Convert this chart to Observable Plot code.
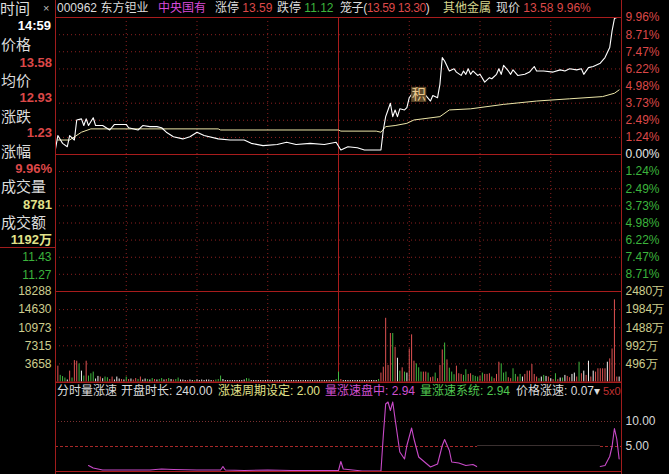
<!DOCTYPE html>
<html><head><meta charset="utf-8">
<script src="https://cdn.jsdelivr.net/npm/d3@7"></script>
<script src="https://cdn.jsdelivr.net/npm/@observablehq/plot@0.6"></script>
<style>
body{margin:0;background:#000;}
#wrap{position:relative;width:669px;height:474px;background:#000;overflow:hidden;font-family:"Liberation Sans","Noto Sans CJK SC",sans-serif;}
#wrap svg{position:absolute;left:0;top:0;}
.t{position:absolute;white-space:nowrap;font-family:"Liberation Sans","Noto Sans CJK SC",sans-serif;}
.vline{position:absolute;top:0;width:1px;height:474px;background:#a01c1c;}
</style></head><body><div id="wrap"></div>
<script>
// ---------------- data ----------------
const prevClose = 12.35;
const stockCode = "000962", stockName = "东方钽业", stockTag = "中央国有", sector = "其他金属";
const limitUp = "13.59", limitDown = "11.12", cage = "13.59 13.30";
const lastPrice = "13.58", lastPct = "9.96%", avgNow = "12.93", change = "1.23", volNow = "8781", amtNow = "1192万", timeNow = "14:59";

// minute index (0 = 9:30, 120 = 11:30/13:00, 240 = 15:00) and price
const priceT = [0,1,3,5,6,8,9,11,12,13,14,16,17,18,20,23,25,30,31,35,37,40,43,45,47,50,54,57,60,63,69,74,80,83,88,94,98,102,108,114,119,121,124,128,131,136,138,139,140,141,142,143,144,145,146,148,149,150,152,155,157,159,160,162,163,164,165,167,169,170,172,173,174,175,176,177,179,180,182,184,185,187,188,189,190,192,193,194,196,199,201,203,204,207,211,214,216,218,221,223,224,226,228,231,233,235,236,237,238,239];
const price = [12.40,12.52,12.45,12.42,12.52,12.48,12.66,12.67,12.61,12.67,12.61,12.68,12.61,12.61,12.61,12.57,12.62,12.62,12.59,12.57,12.61,12.60,12.60,12.59,12.55,12.51,12.49,12.51,12.55,12.52,12.49,12.48,12.48,12.45,12.43,12.44,12.46,12.44,12.45,12.44,12.46,12.39,12.42,12.41,12.39,12.39,12.39,12.57,12.69,12.75,12.81,12.69,12.75,12.69,12.76,12.75,12.77,12.86,12.92,12.91,12.88,12.83,12.88,12.86,12.98,13.22,13.19,13.10,13.12,13.09,13.06,13.10,13.07,13.12,13.07,13.10,13.06,13.07,13.00,13.04,13.03,13.07,13.12,13.07,13.15,13.10,13.07,13.11,13.06,13.07,13.09,13.14,13.10,13.10,13.09,13.11,13.10,13.12,13.11,13.12,13.07,13.13,13.14,13.17,13.22,13.31,13.46,13.57,13.58,13.58];
const avgT = [1,6,11,15,69,70,120,121,136,138,140,144,149,152,163,167,176,190,204,218,232,237,239];
const avgP = [12.48,12.48,12.55,12.58,12.58,12.57,12.57,12.56,12.56,12.55,12.60,12.61,12.63,12.66,12.69,12.75,12.76,12.80,12.83,12.85,12.87,12.90,12.93];
const signalT = [154], signalP = [12.89], signalText = ["积"];

// volume (hands) per minute 0..240, direction r=up g=down w=flat
const vol = [
2860,3200,1340,1100,800,400,2200,800,4330,4200,
3660,2200,1200,4200,1200,1660,2000,600,1130,1000,
660,1000,860,500,1000,400,1000,600,500,400,
1000,500,600,400,700,500,1000,400,600,500,
400,700,500,400,500,700,400,500,700,500,
400,500,800,400,400,300,300,400,300,300,
400,300,400,300,400,400,300,300,400,500,
1200,500,300,300,300,300,300,300,300,300,
400,700,600,300,300,300,300,300,300,300,
300,300,300,300,300,300,300,300,300,300,
300,300,300,300,300,300,300,300,300,300,
300,300,300,300,300,300,300,300,300,500,
2000,500,300,300,300,300,300,300,300,300,
300,300,300,300,300,300,300,500,1800,3000,
12870,3330,9800,9800,7000,4800,2200,2870,2000,1800,
6670,9530,4200,3670,2870,2000,2000,2000,1800,870,
1000,1800,670,3330,6470,7870,4470,2800,2000,1470,
3200,1670,1530,1330,2470,1530,1670,1330,1130,1000,
1130,1800,1530,1530,1670,1000,670,1530,4000,3670,
1800,2000,870,670,2670,1530,1000,1530,1000,1530,
2200,2200,3530,1530,1000,670,1000,1330,1130,1000,
670,470,1670,470,800,800,1330,1130,870,1530,
1800,1000,4000,1670,2200,1330,4200,1000,2200,2000,
2670,2670,2670,2670,4000,4670,6670,16600,1000,1000,
9000];
const volDir = ("rrgggwrgrr"+"gwgrgggwwr"+"wggrrwwwrw"+"grwrrgrwwg"+"wgrwggwrgw"+"rggwwwrwwg"+"wwwwwwwrgg"+"gwwwwwwwww"+"wggwwwwwww"+"wwwwwwwwww"+"wwwwwwwwww"+"wwwwwwwwwg"+"grwwwwwwww"+"wwwwwwwgrr"+"rrrgrwgrgw"+"rrrgggrrgr"+"rgrrrgrggg"+"rrrggrrggg"+"rgrrrgrrrg"+"ggrrggrgwr"+"rrrrrgwgwr"+"wrgrwgwrrw"+"wrgrwrwrwr"+"rrrrwrrrrw"+"w").split("");

// volume speed indicator
const spT = [14,16,20,30,40,45,50,60,70,71,72,80,90,100,110,120,121,122,130,138,139,140,141,142,143,144,146,148,149,151,152,154,157,159,162,164,165,167,168,171,174,177,179,231,233,235,236,237,238,239];
const spV = [1.2,0.7,0.3,0.3,0.3,0.5,0.4,0.3,0.3,1.0,0.3,0.2,0.3,0.2,0.2,0.2,2.0,0.5,0.1,0.1,7.2,13.5,13.9,12.2,13.9,10.5,3.9,2.5,5.2,8.7,6.5,2.9,1.7,0.9,1.5,5.2,6.4,4.2,1.9,1.7,1.2,1.4,0.9,1.0,1.2,3.0,5.0,8.6,6.5,2.5];
const occludedFrom = [179], occludedTo = [231], occludedTop = [5.2];

// tick values / labels
const pctPos = [9.96,8.71,7.47,6.22,4.98,3.73,2.49,1.24];
const pctNeg = [-1.24,-2.49,-3.73,-4.98,-6.22,-7.47,-8.71];
const leftPriceTicks = [11.43, 11.27];
const volTicks = [3658,7315,10973,14630,18288];
const amtLabels = ["496万","992万","1488万","1984万","2480万"];
const spTicks = [5, 10];
const timeGrid = [30,60,90,150,180,210];

// ---------------- drawing ----------------
const W = 669, H = 474, X0 = 55, X1 = 621;
const RED = "#dc4848", GREEN = "#3cb43c", WHITE = "#e8e8e8", KHAKI = "#cdcd8e", MAG = "#c84ac8";
const BORDER = "#a81c1c", GRID = "#8c2020", AVG = "#ece6a8";
const wrap = document.getElementById("wrap");
const pct = p => (p / prevClose - 1) * 100;

const priceData = priceT.map((t, i) => ({t, v: pct(price[i])}));
const avgData = avgT.map((t, i) => ({t, v: pct(avgP[i])}));
const sigData = signalT.map((t, i) => ({t, v: pct(signalP[i]), s: signalText[i]}));
const volData = vol.map((v, i) => ({t: i, v, d: volDir[i]}));
const spData = spT.map((t, i) => ({t, v: spV[i]}));
const occData = occludedFrom.map((a, i) => ({a, b: occludedTo[i], top: occludedTop[i]}));
const amtMap = new Map(volTicks.map((v, i) => [v, amtLabels[i]]));

const base = {
  width: W, height: H, marginLeft: X0, marginRight: W - X1,
  style: {background: "transparent", color: WHITE, fontFamily: "Liberation Sans, sans-serif", fontSize: "12px"},
  x: {domain: [0, 240], axis: null}
};
const dotted = {stroke: GRID, strokeOpacity: 1, strokeDasharray: "1,3"};

// price panel
const pricePlot = Plot.plot({
  ...base, marginTop: 17, marginBottom: H - 291,
  y: {domain: [-9.96, 9.96], axis: null},
  marks: [
    Plot.gridX(timeGrid, dotted),
    Plot.gridY([...pctPos.slice(1), ...pctNeg], dotted),
    Plot.ruleY([0], {stroke: BORDER}),
    Plot.ruleX([120], {stroke: BORDER}),
    Plot.axisY({anchor: "right", ticks: pctPos, tickSize: 0, tickPadding: 4, tickFormat: d => d.toFixed(2) + "%", color: RED, label: null}),
    Plot.axisY({anchor: "right", ticks: [0], tickSize: 0, tickPadding: 4, tickFormat: d => "0.00%", color: WHITE, label: null}),
    Plot.axisY({anchor: "right", ticks: pctNeg, tickSize: 0, tickPadding: 4, tickFormat: d => Math.abs(d).toFixed(2) + "%", color: GREEN, label: null}),
    Plot.axisY({anchor: "left", ticks: leftPriceTicks.map(pct), tickSize: 0, tickPadding: 4, tickFormat: d => (prevClose * (1 + d / 100)).toFixed(2), color: GREEN, label: null}),
    Plot.line(avgData, {x: "t", y: "v", stroke: AVG, strokeWidth: 1}),
    Plot.line(priceData, {x: "t", y: "v", stroke: "#ffffff", strokeWidth: 1.1}),
    Plot.dot(sigData, {x: "t", y: "v", symbol: "square", r: 8.5, fill: "#5e4a2a", stroke: "none"}),
    Plot.text(sigData, {x: "t", y: "v", text: "s", fill: "#e9c98e", fontSize: 14, fontFamily: "Noto Sans CJK SC"}),
    Plot.frame({stroke: BORDER})
  ]
});

// volume panel
const volPlot = Plot.plot({
  ...base, marginTop: 291, marginBottom: H - 381.5,
  y: {domain: [0, 18288], axis: null},
  color: {domain: ["r", "g", "w"], range: ["#e05252", "#3fb83f", "#f2f2f2"]},
  marks: [
    Plot.gridX(timeGrid, dotted),
    Plot.gridY(volTicks.slice(0, 4), dotted),
    Plot.ruleX([120], {stroke: BORDER}),
    Plot.ruleX(volData, {x: "t", y1: 0, y2: "v", stroke: "d", strokeWidth: 1}),
    Plot.axisY({anchor: "left", ticks: volTicks, tickSize: 0, tickPadding: 4, tickFormat: d => String(d), color: KHAKI, label: null}),
    Plot.axisY({anchor: "right", ticks: volTicks, tickSize: 0, tickPadding: 4, tickFormat: d => amtMap.get(d), color: KHAKI, label: null}),
    Plot.frame({stroke: BORDER})
  ]
});

// volume-speed panel
const spPlot = Plot.plot({
  ...base, marginTop: 382, marginBottom: H - 471,
  y: {domain: [0, 17.8], axis: null},
  marks: [
    Plot.gridY([10], {stroke: "#7a3030", strokeOpacity: 1, strokeDasharray: "1,2"}),
    Plot.gridY([5], {stroke: "#a82828", strokeOpacity: 1, strokeDasharray: "3,2"}),
    Plot.line(spData, {x: "t", y: "v", stroke: MAG, strokeWidth: 1.1}),
    Plot.rect(occData, {x1: "a", x2: "b", y1: -1, y2: "top", fill: "#000"}),
    Plot.ruleY(occData, {x1: "a", x2: "b", y: "top", stroke: "#3a3030"}),
    Plot.axisY({anchor: "right", ticks: spTicks, tickSize: 0, tickPadding: 4, tickFormat: d => d.toFixed(2), color: "#d8d8d8", label: null}),
    Plot.frame({stroke: BORDER})
  ]
});

wrap.appendChild(pricePlot);
wrap.appendChild(volPlot);
wrap.appendChild(spPlot);

// full-height borders
for (const x of [X0 - 0.5, X1 - 0.5]) {
  const d = document.createElement("div"); d.className = "vline"; d.style.left = Math.round(x) + "px"; wrap.appendChild(d);
}
const hl = document.createElement("div");
hl.style.cssText = "position:absolute;left:0;top:247px;width:55px;height:1px;background:#a01c1c";
wrap.appendChild(hl);

// text helper: segments = [[text, color], ...]
function label(x, y, segs, size = 12, opt = {}) {
  const d = document.createElement("div");
  d.className = "t";
  if (typeof segs === "string") segs = [[segs, opt.color]];
  for (const [s, c] of segs) {
    const sp = document.createElement("span");
    sp.textContent = s; sp.style.color = c;
    d.appendChild(sp);
  }
  d.style.fontSize = size + "px";
  d.style.lineHeight = size + "px";
  d.style.top = (y - size / 2) + "px";
  if (opt.right != null) d.style.right = (W - opt.right) + "px"; else d.style.left = x + "px";
  if (opt.bold) d.style.fontWeight = "bold";
  if (opt.spacing != null) d.style.letterSpacing = opt.spacing + "px";
  wrap.appendChild(d);
  return d;
}
const LG = "#dcdcdc";
// header
label(0, 8, "时间", 15, {color: LG});
label(43, 8, "×", 11, {color: "#bbbbbb"});
label(57, 8, stockCode + " " + stockName, 12, {color: LG});
label(158, 8, stockTag, 12, {color: "#d84ad8"});
label(215, 8, [["涨停 ", LG], [limitUp, RED]], 12);
label(277, 8, [["跌停 ", LG], [limitDown, GREEN]], 12);
label(340, 8, [["笼子(", LG], [cage, RED], [")", LG]], 12, {spacing: -0.4});
label(443, 8, sector, 12, {color: "#d6d68e"});
label(496, 8, [["现价 ", LG], [lastPrice + " " + lastPct, RED]], 12);

// left info column
label(0, 25, timeNow, 13, {right: 51, bold: true, color: "#ffffff"});
const info = [["价格", lastPrice, RED], ["均价", avgNow, RED], ["涨跌", change, RED], ["涨幅", lastPct, RED], ["成交量", volNow, "#e2e28a"], ["成交额", amtNow, "#e2e28a"]];
const infoKeyY = [44, 80, 116, 151, 186, 222], infoValY = [62, 97, 132, 168, 204, 239];
info.forEach(([k, v, c], i) => {
  label(1, infoKeyY[i], k, 15, {color: LG});
  label(0, infoValY[i], v, 13, {right: 52, bold: true, color: c});
});

// indicator title row
const row = [
  [57, "分时量涨速", LG], [121, "开盘时长: 240.00", LG], [218, "涨速周期设定: 2.00", "#e2e28a"],
  [325, "量涨速盘中: 2.94", "#d050d0"], [420, "量涨速系统: 2.94", "#50c850"], [516, "价格涨速: 0.07▾", LG]
];
row.forEach(([x, s, c]) => label(x, 391, s, 12, {color: c}));
label(603, 391, "5x0", 11, {color: "#c03030"});
</script></body></html>
